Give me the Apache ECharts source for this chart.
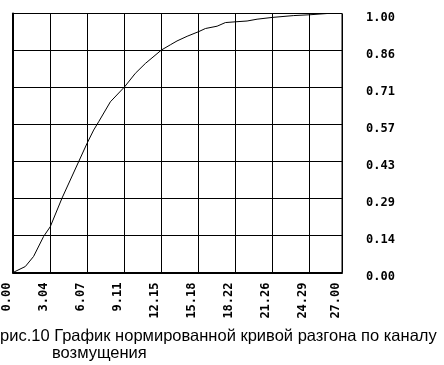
<!DOCTYPE html>
<html>
<head>
<meta charset="utf-8">
<script src="https://cdn.jsdelivr.net/npm/echarts@6/dist/echarts.min.js"></script>
<style>
html,body{margin:0;padding:0;background:#fff;}
#chart{width:444px;height:365px;}
</style>
</head>
<body>
<div id="chart"></div>
<script>
// Time (x) values of the curve
var tValues = [0, 1.01, 1.69, 2.51, 3.06, 4.02, 4.70, 5.39, 6.08, 6.62, 7.03, 7.99, 9.16, 10.04, 10.86, 12.18, 12.91, 13.46, 14.29, 15.24, 15.79, 16.75, 17.43, 18.28, 19.21, 20.03, 21.31, 23.04, 24.33, 25.78, 27.0];
// Normalized response values
var yValues = [0, 0.023, 0.062, 0.139, 0.177, 0.287, 0.357, 0.428, 0.499, 0.55, 0.582, 0.659, 0.717, 0.769, 0.807, 0.859, 0.879, 0.894, 0.912, 0.93, 0.942, 0.951, 0.965, 0.968, 0.971, 0.978, 0.985, 0.992, 0.995, 1.0, 1.0];
// Tick labels
var xTickLabels = ["0.00", "3.04", "6.07", "9.11", "12.15", "15.18", "18.22", "21.26", "24.29", "27.00"];
var yTickLabels = ["0.00", "0.14", "0.29", "0.43", "0.57", "0.71", "0.86", "1.00"];
var captionLine1 = "рис.10 График нормированной кривой разгона по каналу";
var captionLine2 = "возмущения";

var xMax = 27;
var xStep = 3.0375;
var yStep = 1 / 7;

var chart = echarts.init(document.getElementById('chart'), null, {renderer: 'canvas'});
var labelFont = {fontFamily: 'DejaVu Sans Mono', fontWeight: 'bold', fontSize: 12, color: '#000'};
var captionFont = {fontFamily: 'Liberation Sans', fontWeight: 'normal', fontSize: 16.5, color: '#000'};

chart.setOption({
  animation: false,
  backgroundColor: '#fff',
  title: [
    {text: captionLine1, left: 0, top: 328, textStyle: captionFont, padding: 0},
    {text: captionLine2, left: 52, top: 345, textStyle: captionFont, padding: 0}
  ],
  grid: {left: 13, top: 13.5, width: 329, height: 259, show: true, borderColor: '#000', borderWidth: 1, containLabel: false},
  xAxis: {
    type: 'value', min: 0, max: xMax, interval: xStep,
    axisLine: {show: true, onZero: false, lineStyle: {color: '#000', width: 2}},
    axisTick: {show: false},
    splitLine: {show: true, lineStyle: {color: '#000', width: 1}},
    axisLabel: Object.assign({
      rotate: 90, margin: 10, verticalAlign: 'bottom', showMinLabel: true, showMaxLabel: true,
      formatter: function (v) {
        var i = Math.round(v / xStep);
        if (Math.abs(v - xMax) < 1e-6) i = xTickLabels.length - 1;
        return xTickLabels[Math.min(i, xTickLabels.length - 1)];
      }
    }, labelFont)
  },
  yAxis: [{
    type: 'value', min: 0, max: 1, interval: yStep, position: 'right',
    axisLine: {show: true, lineStyle: {color: '#000', width: 1}},
    axisTick: {show: false},
    splitLine: {show: true, lineStyle: {color: '#000', width: 1}},
    axisLabel: Object.assign({
      margin: 24, align: 'left', verticalAlign: 'top', lineHeight: 8,
      formatter: function (v) { return yTickLabels[Math.round(v / yStep)]; }
    }, labelFont)
  }, {
    type: 'value', min: 0, max: 1, position: 'left',
    axisLine: {show: true, lineStyle: {color: '#000', width: 2}},
    axisTick: {show: false}, splitLine: {show: false}, axisLabel: {show: false}
  }],
  series: [{
    type: 'line',
    data: tValues.map(function (t, i) { return [t, yValues[i]]; }),
    showSymbol: false,
    smooth: false,
    lineStyle: {color: '#000', width: 1}
  }]
});
</script>
</body>
</html>
